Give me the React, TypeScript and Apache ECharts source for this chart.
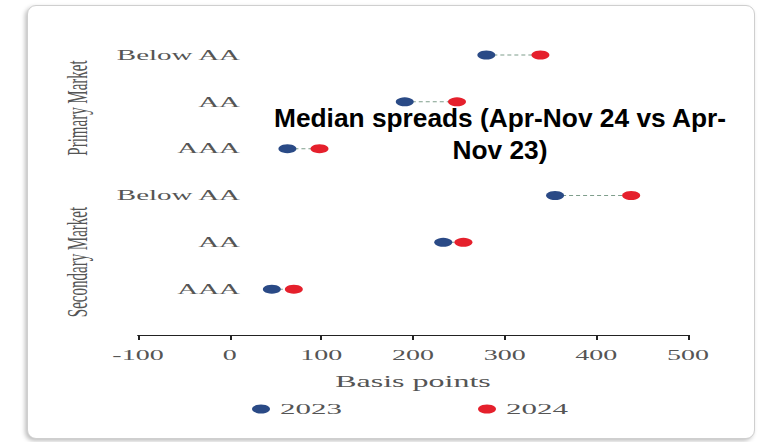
import React, { useEffect, useRef } from "react";
import * as echarts from "echarts";

// ---- data ----
const groups = ["Primary Market", "Secondary Market"];
const ratings = ["Below AA", "AA", "AAA"];
const categories = [...ratings, ...ratings];
const seriesNames = ["2023", "2024"];
const spreads2023 = [280, 191, 63, 355, 233, 46];
const spreads2024 = [339, 248, 98, 438, 255, 70];
const xTicks = { min: -100, max: 500, interval: 100 };
const xAxisName = "Basis points";
const titleText = "Median spreads (Apr-Nov 24 vs Apr-\nNov 23)";

const S = 2; // horizontal stretch of the reference picture
const W = 762 / S;
const H = 442;
const SERIF = '"Liberation Serif", "Times New Roman", serif';
const BLUE = "#2a4a86";
const RED = "#e5202c";

export default function App() {
  const ref = useRef<HTMLDivElement>(null);

  useEffect(() => {
    if (!ref.current) return;
    const chart = echarts.init(ref.current, null, { renderer: "svg", width: W, height: H });
    const rows = categories.map((_, i) => [i, spreads2023[i], spreads2024[i]]);

    chart.setOption({
      animation: false,
      backgroundColor: "transparent",
      grid: [
        { left: 69, right: W - 344, top: 31.6, bottom: H - 312.6 },
        { left: 54, right: W - 344, top: 31, bottom: H - 339 },
      ],
      xAxis: [
        {
          gridIndex: 0,
          type: "value",
          min: xTicks.min,
          max: xTicks.max,
          interval: xTicks.interval,
          offset: 22.4,
          splitLine: { show: false },
          axisLine: { show: true, lineStyle: { color: "#222", width: 1 } },
          axisTick: { show: true, length: 5, lineStyle: { color: "#222", width: 1 } },
          axisLabel: { color: "#555", fontFamily: SERIF, fontSize: 14, margin: 13 },
          name: xAxisName,
          nameLocation: "middle",
          nameGap: 38,
          nameTextStyle: { color: "#555", fontFamily: SERIF, fontSize: 16 },
        },
        { gridIndex: 1, type: "value", show: false, min: 0, max: 1 },
      ],
      yAxis: [
        {
          gridIndex: 0,
          type: "category",
          data: categories,
          inverse: true,
          offset: -59,
          axisLine: { show: false },
          axisTick: { show: false },
          splitLine: { show: false },
          axisLabel: { color: "#555", fontFamily: SERIF, fontSize: 14.5, margin: 8 },
        },
        {
          gridIndex: 1,
          type: "category",
          data: groups,
          inverse: true,
          axisLine: { show: false },
          axisTick: { show: false },
          splitLine: { show: false },
          axisLabel: { color: "#555", fontFamily: SERIF, fontSize: 15, rotate: 90, margin: 8 },
        },
      ],
      legend: {
        data: seriesNames,
        left: 126,
        top: 401,
        padding: 0,
        itemGap: 68,
        itemWidth: 9,
        itemHeight: 9,
        icon: "circle",
        textStyle: { color: "#555", fontFamily: SERIF, fontSize: 15.5 },
      },
      series: [
        {
          type: "custom",
          name: "connector",
          xAxisIndex: 0,
          yAxisIndex: 0,
          data: rows,
          encode: { x: [1, 2], y: 0 },
          z: 1,
          renderItem: (params: any, api: any) => {
            const y = api.value(0);
            const p1 = api.coord([api.value(1), y]);
            const p2 = api.coord([api.value(2), y]);
            return {
              type: "line",
              shape: { x1: p1[0], y1: p1[1], x2: p2[0], y2: p2[1] },
              style: { stroke: "#7f9e8c", lineWidth: 1, lineDash: [2, 1.5] },
            };
          },
        },
        {
          type: "scatter",
          name: seriesNames[0],
          xAxisIndex: 0,
          yAxisIndex: 0,
          symbol: "circle",
          symbolSize: 9,
          itemStyle: { color: BLUE, opacity: 1 },
          data: spreads2023.map((v, i) => [v, i]),
          z: 3,
        },
        {
          type: "scatter",
          name: seriesNames[1],
          xAxisIndex: 0,
          yAxisIndex: 0,
          symbol: "circle",
          symbolSize: 9,
          itemStyle: { color: RED, opacity: 1 },
          data: spreads2024.map((v, i) => [v, i]),
          z: 3,
        },
      ],
      graphic: [
        {
          type: "text",
          x: 500 / S,
          y: 102,
          scaleX: 1 / S,
          z: 10,
          style: {
            text: titleText,
            fill: "#000",
            font: 'bold 26.3px "Liberation Sans", Arial, sans-serif',
            textAlign: "center",
            textVerticalAlign: "top",
            lineHeight: 32,
          },
        },
      ],
    });

    return () => chart.dispose();
  }, []);

  return (
    <div
      style={{
        position: "fixed",
        left: 0,
        top: 0,
        width: 762,
        height: 442,
        overflow: "hidden",
        background: "#fff",
      }}
    >
      <div
        style={{
          position: "absolute",
          left: 27,
          top: 5,
          width: 726,
          height: 432,
          border: "1px solid #cfcfcf",
          borderRadius: 9,
          boxShadow: "-2px 2px 4px rgba(0,0,0,0.25)",
          background: "#fff",
        }}
      />
      <div
        ref={ref}
        style={{
          position: "absolute",
          left: 0,
          top: 0,
          width: W,
          height: H,
          transform: `scaleX(${S})`,
          transformOrigin: "0 0",
        }}
      />
    </div>
  );
}
